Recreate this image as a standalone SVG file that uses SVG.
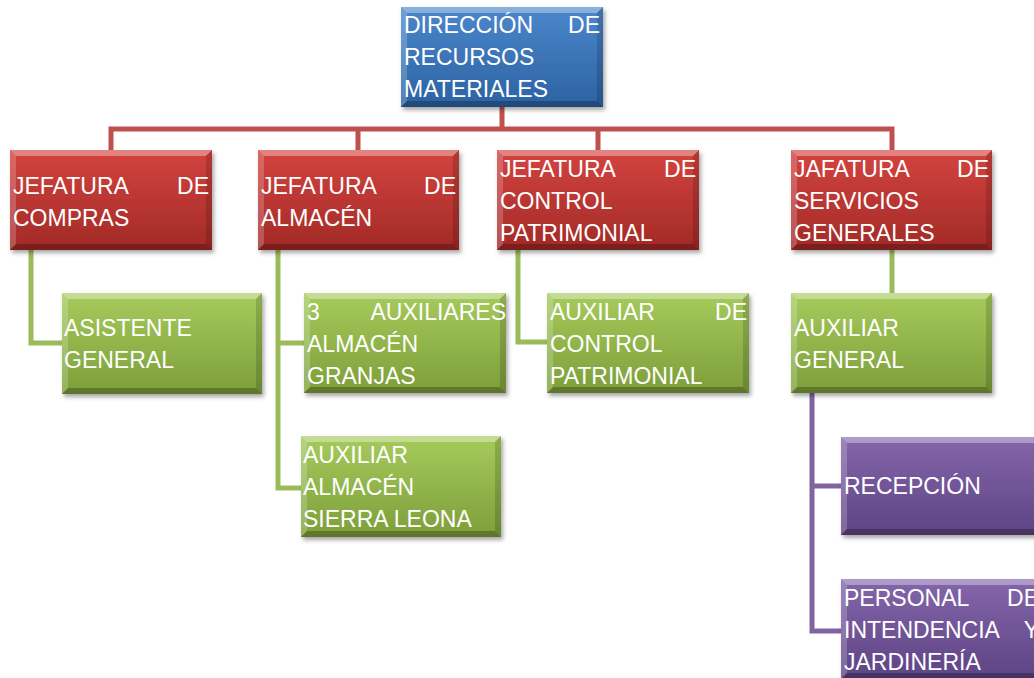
<svg xmlns="http://www.w3.org/2000/svg" width="1034" height="678" viewBox="0 0 1034 678">
<style>
.t{font-family:"Liberation Sans",Arial,sans-serif;font-size:23px;fill:#fff}
.e{text-anchor:end}
.cr{fill:none;stroke:#c0504d;stroke-width:5}
.cg{fill:none;stroke:#9bbb59;stroke-width:5}
.cp{fill:none;stroke:#8064a2;stroke-width:5}
</style>
<defs>
<linearGradient id="gB" x1="0" y1="0" x2="0" y2="1"><stop offset="0" stop-color="#4b87cb"/><stop offset="1" stop-color="#2c62a3"/></linearGradient>
<linearGradient id="gR" x1="0" y1="0" x2="0" y2="1"><stop offset="0" stop-color="#d4433f"/><stop offset="1" stop-color="#a22a27"/></linearGradient>
<linearGradient id="gG" x1="0" y1="0" x2="0" y2="1"><stop offset="0" stop-color="#a6cb5c"/><stop offset="1" stop-color="#7d9e3a"/></linearGradient>
<linearGradient id="gP" x1="0" y1="0" x2="0" y2="1"><stop offset="0" stop-color="#8466ab"/><stop offset="1" stop-color="#5e4484"/></linearGradient>
<filter id="sh" x="-10%" y="-10%" width="125%" height="130%"><feDropShadow dx="2" dy="3" stdDeviation="2" flood-color="#000" flood-opacity="0.35"/></filter>
<g id="bev">
<polygon points="0,0 200,0 194,6 6,6" fill="#fff" fill-opacity="0.35"/>
<polygon points="0,0 6,6 6,94 0,100" fill="#fff" fill-opacity="0.2"/>
<polygon points="200,0 200,100 194,94 194,6" fill="#000" fill-opacity="0.15"/>
<polygon points="0,100 6,94 194,94 200,100" fill="#000" fill-opacity="0.25"/>
</g>
</defs>
<rect width="1034" height="678" fill="#fff"/>
<g id="connectors">
<path class="cr" d="M502,107 V129 M111,150 V129 H892 V150 M358,129 V150 M598,129 V150"/>
<path class="cg" d="M31,250 V343 H62"/>
<path class="cg" d="M278,250 V488 H301 M278,343 H304"/>
<path class="cg" d="M518,250 V342 H547"/>
<path class="cg" d="M892,250 V293"/>
<path class="cp" d="M812,393 V631 H841 M812,486 H841"/>
</g>
<g id="n-direccion">
<rect x="401" y="7" width="202" height="100" fill="url(#gB)" filter="url(#sh)"/>
<use href="#bev" transform="translate(401,7) scale(1.01,1)"/>
<text class="t" x="404" y="33">DIRECCIÓN</text><text class="t e" x="600" y="33">DE</text>
<text class="t" x="404" y="65">RECURSOS</text>
<text class="t" x="404" y="97">MATERIALES</text>
</g>
<g id="n-compras">
<rect x="10" y="150" width="202" height="100" fill="url(#gR)" filter="url(#sh)"/>
<use href="#bev" transform="translate(10,150) scale(1.01,1)"/>
<text class="t" x="13" y="194">JEFATURA</text><text class="t e" x="209" y="194">DE</text>
<text class="t" x="13" y="226">COMPRAS</text>
</g>
<g id="n-almacen">
<rect x="258" y="150" width="201" height="100" fill="url(#gR)" filter="url(#sh)"/>
<use href="#bev" transform="translate(258,150) scale(1.005,1)"/>
<text class="t" x="261" y="194">JEFATURA</text><text class="t e" x="456" y="194">DE</text>
<text class="t" x="261" y="226">ALMACÉN</text>
</g>
<g id="n-control">
<rect x="497" y="150" width="202" height="100" fill="url(#gR)" filter="url(#sh)"/>
<use href="#bev" transform="translate(497,150) scale(1.01,1)"/>
<text class="t" x="500" y="177">JEFATURA</text><text class="t e" x="696" y="177">DE</text>
<text class="t" x="500" y="209">CONTROL</text>
<text class="t" x="500" y="241">PATRIMONIAL</text>
</g>
<g id="n-servicios">
<rect x="791" y="150" width="201" height="100" fill="url(#gR)" filter="url(#sh)"/>
<use href="#bev" transform="translate(791,150) scale(1.005,1)"/>
<text class="t" x="794" y="177">JAFATURA</text><text class="t e" x="989" y="177">DE</text>
<text class="t" x="794" y="209">SERVICIOS</text>
<text class="t" x="794" y="241">GENERALES</text>
</g>
<g id="n-asistente">
<rect x="62" y="293" width="200" height="101" fill="url(#gG)" filter="url(#sh)"/>
<use href="#bev" transform="translate(62,293) scale(1,1.01)"/>
<text class="t" x="64" y="336">ASISTENTE</text>
<text class="t" x="64" y="368">GENERAL</text>
</g>
<g id="n-aux3">
<rect x="304" y="293" width="202" height="100" fill="url(#gG)" filter="url(#sh)"/>
<use href="#bev" transform="translate(304,293) scale(1.01,1)"/>
<text class="t" x="307" y="320">3</text><text class="t e" x="506" y="320">AUXILIARES</text>
<text class="t" x="307" y="352">ALMACÉN</text>
<text class="t" x="307" y="384">GRANJAS</text>
</g>
<g id="n-sierra">
<rect x="301" y="436" width="200" height="101" fill="url(#gG)" filter="url(#sh)"/>
<use href="#bev" transform="translate(301,436) scale(1,1.01)"/>
<text class="t" x="303" y="463">AUXILIAR</text>
<text class="t" x="303" y="495">ALMACÉN</text>
<text class="t" x="303" y="527">SIERRA LEONA</text>
</g>
<g id="n-auxcontrol">
<rect x="547" y="293" width="202" height="100" fill="url(#gG)" filter="url(#sh)"/>
<use href="#bev" transform="translate(547,293) scale(1.01,1)"/>
<text class="t" x="550" y="320">AUXILIAR</text><text class="t e" x="747" y="320">DE</text>
<text class="t" x="550" y="352">CONTROL</text>
<text class="t" x="550" y="384">PATRIMONIAL</text>
</g>
<g id="n-auxgeneral">
<rect x="791" y="293" width="201" height="100" fill="url(#gG)" filter="url(#sh)"/>
<use href="#bev" transform="translate(791,293) scale(1.005,1)"/>
<text class="t" x="794" y="336">AUXILIAR</text>
<text class="t" x="794" y="368">GENERAL</text>
</g>
<g id="n-recepcion">
<rect x="841" y="437" width="201" height="98" fill="url(#gP)" filter="url(#sh)"/>
<use href="#bev" transform="translate(841,437) scale(1.005,0.98)"/>
<text class="t" x="844" y="494">RECEPCIÓN</text>
</g>
<g id="n-personal">
<rect x="841" y="579" width="201" height="100" fill="url(#gP)" filter="url(#sh)"/>
<use href="#bev" transform="translate(841,579) scale(1.005,1)"/>
<text class="t" x="844" y="606">PERSONAL</text><text class="t e" x="1039" y="606">DE</text>
<text class="t" x="844" y="638">INTENDENCIA</text><text class="t e" x="1039" y="638">Y</text>
<text class="t" x="844" y="670">JARDINERÍA</text>
</g>
</svg>
